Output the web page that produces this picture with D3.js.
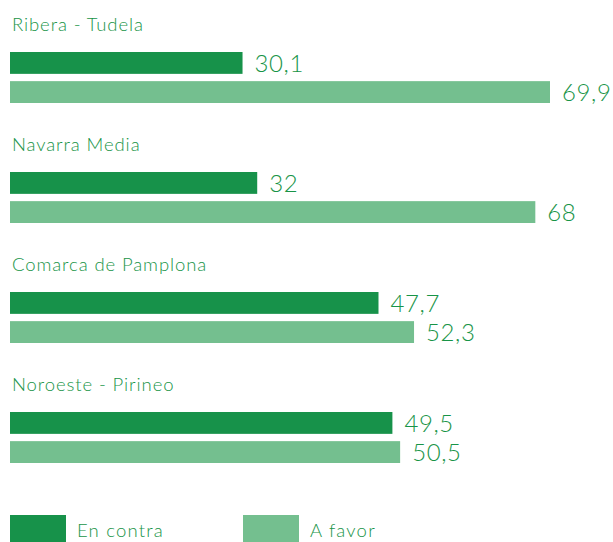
<!DOCTYPE html>
<html>
<head>
<meta charset="utf-8">
<script src="https://cdn.jsdelivr.net/npm/d3@7/dist/d3.min.js"></script>
<style>
  html, body { margin: 0; padding: 0; background: #fff; }
  svg { display: block; font-family: Lato, "Noto Sans", sans-serif; font-weight: 300; }
</style>
</head>
<body>
<div id="chart"></div>
<script>
// ── Data ──
const regions = ['Ribera - Tudela', 'Navarra Media', 'Comarca de Pamplona', 'Noroeste - Pirineo'];
const series = ['En contra', 'A favor'];
const enContra = [30.1, 32, 47.7, 49.5];
const aFavor = [69.9, 68, 52.3, 50.5];

const W = 613, H = 542;
const TEXT = '#189447';
const colors = { 'En contra': '#17924a', 'A favor': '#74bf8f' };
const fmt = v => String(v).replace('.', ',');

const rows = regions.map((r, i) => ({ region: r, values: [
  { key: 'En contra', value: enContra[i] },
  { key: 'A favor', value: aFavor[i] }
] }));

const svg = d3.select('#chart').append('svg')
  .attr('width', W).attr('height', H);

const x = d3.scaleLinear().domain([0, 69.9]).range([10, 550]);
const yGroup = d3.scalePoint().domain(regions).range([52, 412]);
const yInner = d3.scaleBand().domain(series).range([0, 51]).paddingInner(0.25);

const groups = svg.selectAll('.group')
  .data(rows)
  .enter().append('g')
  .attr('class', 'group')
  .attr('transform', d => `translate(0,${yGroup(d.region)})`);

// category label
groups.append('text')
  .attr('x', 12)
  .attr('y', -21)
  .attr('fill', TEXT)
  .attr('font-size', '18.5px')
  .attr('letter-spacing', '0.9px')
  .text(d => d.region);

// bars
groups.selectAll('rect')
  .data(d => d.values)
  .enter().append('rect')
  .attr('x', x(0))
  .attr('y', d => yInner(d.key))
  .attr('width', d => x(d.value) - x(0))
  .attr('height', yInner.bandwidth())
  .attr('fill', d => colors[d.key]);

// value labels
groups.selectAll('.val')
  .data(d => d.values)
  .enter().append('text')
  .attr('class', 'val')
  .attr('x', d => x(d.value) + 12)
  .attr('y', d => yInner(d.key) + yInner.bandwidth() / 2)
  .attr('dy', '0.36em')
  .attr('fill', TEXT)
  .attr('font-size', '24px')
  .attr('letter-spacing', '0.6px')
  .text(d => fmt(d.value));

// ── Legend ──
const legendX = d3.scalePoint().domain(series).range([10, 243]);
const legend = svg.selectAll('.legend')
  .data(series)
  .enter().append('g')
  .attr('class', 'legend')
  .attr('transform', d => `translate(${legendX(d)},515)`);

legend.append('rect')
  .attr('width', 56).attr('height', 30)
  .attr('fill', d => colors[d]);

legend.append('text')
  .attr('x', 67)
  .attr('y', 22)
  .attr('fill', TEXT)
  .attr('font-size', '18.5px')
  .attr('letter-spacing', '1.2px')
  .text(d => d);
</script>
</body>
</html>
